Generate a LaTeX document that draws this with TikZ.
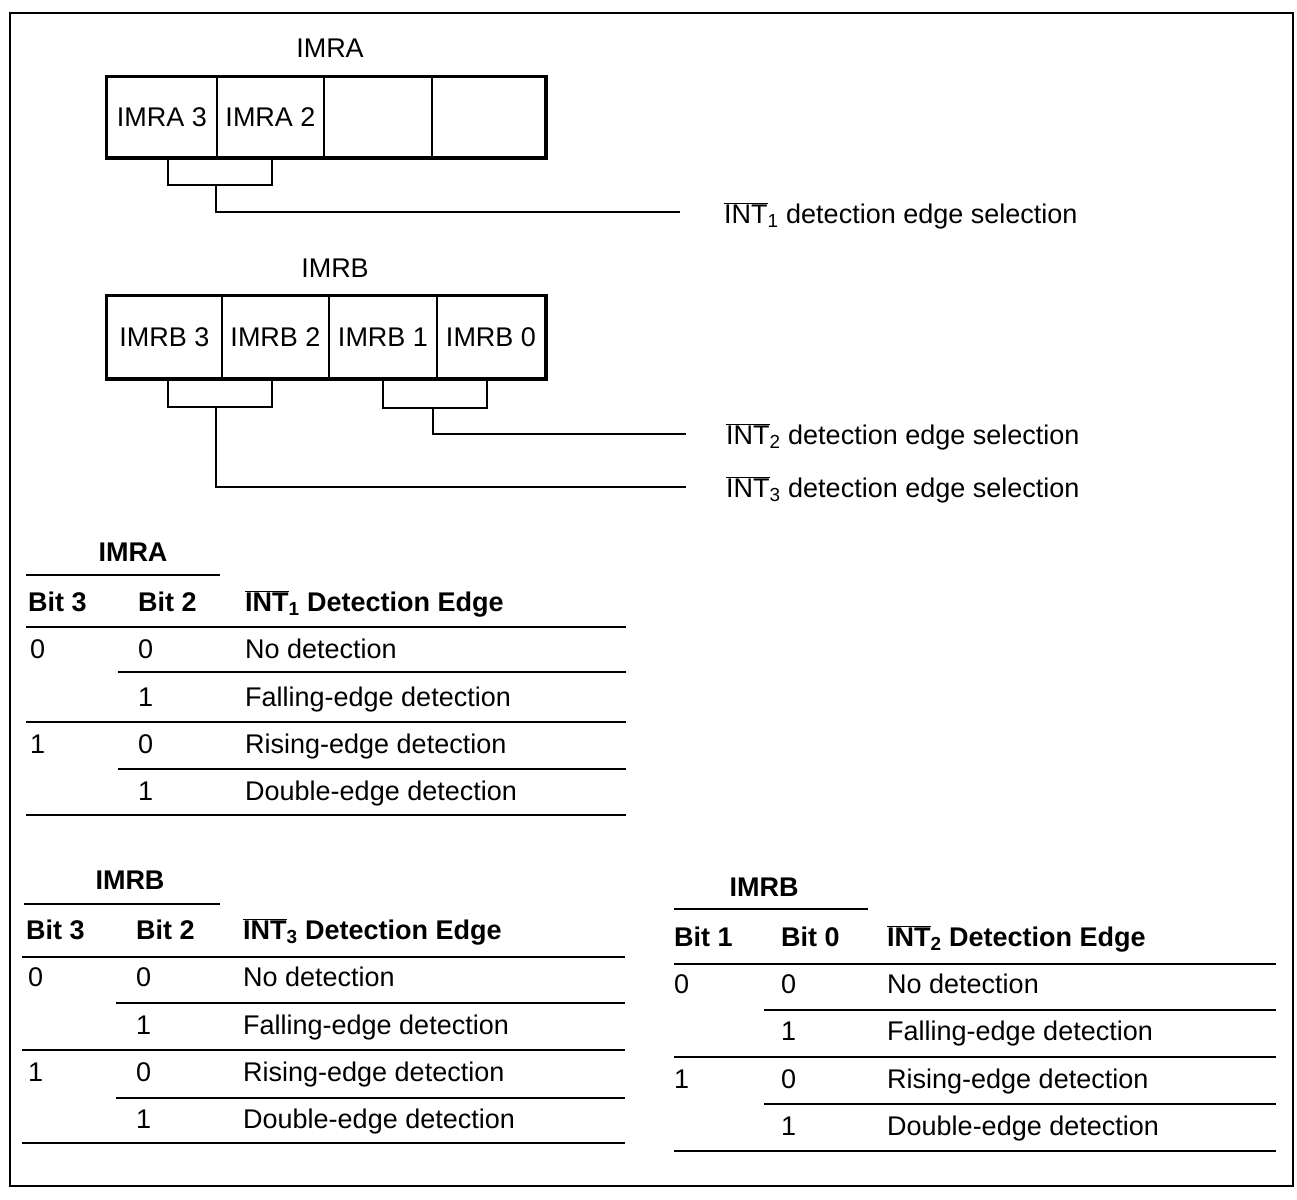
\documentclass[tikz,border=0pt]{standalone}
\usepackage{fontspec}
\setmainfont{Liberation Sans}
\newcommand\intbar[1]{$\overline{\mbox{INT}}$\textsubscript{#1}}
\begin{document}
\begin{tikzpicture}[x=1pt,y=-1pt,
  txt/.style={font=\fontsize{27}{32}\selectfont, inner sep=0pt},
  btxt/.style={font=\fontsize{27}{32}\selectfont\bfseries, inner sep=0pt},
  cell/.style={draw, line width=2pt, minimum height=#1, inner sep=0pt, font=\fontsize{27}{32}\selectfont},
  reg/.style={line width=3pt},
  conn/.style={line width=2.6pt},
  rule/.style={line width=2.4pt}]
\useasboundingbox (0,0) rectangle (1297,1199);
\draw[line width=2pt] (10,13) rectangle (1293,1186);

% ---------- IMRA register ----------
\node[txt, anchor=base] (imraT) at (330,57) {IMRA};
\node[cell=80pt, minimum width=110pt] (a3) at (162,117) {IMRA 3};
\node[cell=80pt, minimum width=107pt] (a2) at (270.5,117) {IMRA 2};
\node[cell=80pt, minimum width=108pt] (a1) at (378,117) {};
\node[cell=80pt, minimum width=113pt] (a0) at (488.5,117) {};
\draw[reg] (a3.north west) rectangle (a0.south east);
\coordinate (ab1) at (168,185);
\coordinate (ab2) at (272,185);
\coordinate (as) at (216,185);
\coordinate (ae) at (680,212);
\draw[conn] (168,157) |- (ab2) -- (272,157);
\node[txt, anchor=base west] (l1) at (724,223) {\intbar{1} detection edge selection};
\draw[conn] (as) |- (ae);

% ---------- IMRB register ----------
\node[txt, anchor=base] (imrbT) at (335,277) {IMRB};
\node[cell=82pt, minimum width=115pt] (b3) at (164.5,337) {IMRB 3};
\node[cell=82pt, minimum width=107pt] (b2) at (275.5,337) {IMRB 2};
\node[cell=82pt, minimum width=108pt] (b1) at (383,337) {IMRB 1};
\node[cell=82pt, minimum width=108pt] (b0) at (491,337) {IMRB 0};
\draw[reg] (b3.north west) rectangle (b0.south east);
\draw[conn] (168,378) |- (272,407) -- (272,378);
\draw[conn] (383,378) |- (487,408) -- (487,378);
\coordinate (bs3) at (216,407);
\coordinate (bs2) at (433,408);
\coordinate (be2) at (686,434);
\coordinate (be3) at (686,487);
\draw[conn] (bs2) |- (be2);
\draw[conn] (bs3) |- (be3);
\node[txt, anchor=base west] (l2) at (726,444) {\intbar{2} detection edge selection};
\node[txt, anchor=base west] (l3) at (726,497) {\intbar{3} detection edge selection};

% ---------- Table 1 ----------
\node[btxt, anchor=base] (t1t) at (133,561) {IMRA};
\draw[rule] (26,575) -- (220,575);
\node[btxt, anchor=base west] (t1h1) at (28,611) {Bit 3};
\node[btxt, anchor=base west] (t1h2) at (138,611) {Bit 2};
\node[btxt, anchor=base west] (t1h3) at (245,611) {\intbar{1} Detection Edge};
\draw[rule] (26,627) -- (626,627);
\node[txt, anchor=base west] at (30,658) {0};
\node[txt, anchor=base west] at (138,658) {0};
\node[txt, anchor=base west] at (245,658) {No detection};
\draw[rule] (118,672) -- (626,672);
\node[txt, anchor=base west] at (138,706) {1};
\node[txt, anchor=base west] at (245,706) {Falling-edge detection};
\draw[rule] (26,722) -- (626,722);
\node[txt, anchor=base west] at (30,753) {1};
\node[txt, anchor=base west] at (138,753) {0};
\node[txt, anchor=base west] at (245,753) {Rising-edge detection};
\draw[rule] (118,769) -- (626,769);
\node[txt, anchor=base west] at (138,800) {1};
\node[txt, anchor=base west] at (245,800) {Double-edge detection};
\draw[rule] (26,815) -- (626,815);

% ---------- Table 2 ----------
\node[btxt, anchor=base] (t2t) at (130,889) {IMRB};
\draw[rule] (24,904) -- (220,904);
\node[btxt, anchor=base west] at (26,939) {Bit 3};
\node[btxt, anchor=base west] at (136,939) {Bit 2};
\node[btxt, anchor=base west] at (243,939) {\intbar{3} Detection Edge};
\draw[rule] (22,957) -- (625,957);
\node[txt, anchor=base west] at (28,986) {0};
\node[txt, anchor=base west] at (136,986) {0};
\node[txt, anchor=base west] at (243,986) {No detection};
\draw[rule] (116,1003) -- (625,1003);
\node[txt, anchor=base west] at (136,1034) {1};
\node[txt, anchor=base west] at (243,1034) {Falling-edge detection};
\draw[rule] (22,1050) -- (625,1050);
\node[txt, anchor=base west] at (28,1081) {1};
\node[txt, anchor=base west] at (136,1081) {0};
\node[txt, anchor=base west] at (243,1081) {Rising-edge detection};
\draw[rule] (116,1098) -- (625,1098);
\node[txt, anchor=base west] at (136,1128) {1};
\node[txt, anchor=base west] at (243,1128) {Double-edge detection};
\draw[rule] (22,1143) -- (625,1143);

% ---------- Table 3 ----------
\node[btxt, anchor=base] (t3t) at (764,896) {IMRB};
\draw[rule] (674,909) -- (868,909);
\node[btxt, anchor=base west] at (674,946) {Bit 1};
\node[btxt, anchor=base west] at (781,946) {Bit 0};
\node[btxt, anchor=base west] at (887,946) {\intbar{2} Detection Edge};
\draw[rule] (674,964) -- (1276,964);
\node[txt, anchor=base west] at (674,993) {0};
\node[txt, anchor=base west] at (781,993) {0};
\node[txt, anchor=base west] at (887,993) {No detection};
\draw[rule] (764,1010) -- (1276,1010);
\node[txt, anchor=base west] at (781,1040) {1};
\node[txt, anchor=base west] at (887,1040) {Falling-edge detection};
\draw[rule] (674,1057) -- (1276,1057);
\node[txt, anchor=base west] at (674,1088) {1};
\node[txt, anchor=base west] at (781,1088) {0};
\node[txt, anchor=base west] at (887,1088) {Rising-edge detection};
\draw[rule] (764,1104) -- (1276,1104);
\node[txt, anchor=base west] at (781,1135) {1};
\node[txt, anchor=base west] at (887,1135) {Double-edge detection};
\draw[rule] (674,1151) -- (1276,1151);
\end{tikzpicture}
\end{document}
